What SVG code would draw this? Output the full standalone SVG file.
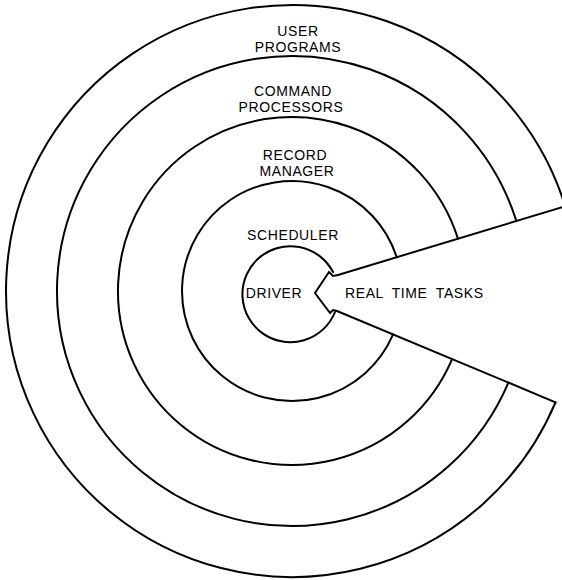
<svg xmlns="http://www.w3.org/2000/svg" width="562" height="580" viewBox="0 0 562 580">
<style>
.ln{fill:none;stroke:#000;stroke-width:2;stroke-linejoin:miter;stroke-linecap:round}
.t{font-family:"Liberation Sans","DejaVu Sans",Arial,sans-serif;font-size:14px;letter-spacing:0.6px;fill:#000;text-anchor:middle}
</style>
<rect width="562" height="580" fill="#fff"/>
<g id="user-programs">
<path class="ln" d="M565.1 206 A286 286 0 1 0 555.5 402.3"/>
<text class="t" x="298" y="36">USER</text>
<text class="t" x="298" y="52">PROGRAMS</text>
</g>
<g id="command-processors">
<path class="ln" d="M516.3 220.9 A235 235 0 1 0 508.4 382.6"/>
<text class="t" x="293" y="96">COMMAND</text>
<text class="t" x="291" y="112">PROCESSORS</text>
</g>
<g id="record-manager">
<path class="ln" d="M457.9 238.6 A174 174 0 1 0 452.1 359.1"/>
<text class="t" x="295" y="160">RECORD</text>
<text class="t" x="297" y="176">MANAGER</text>
</g>
<g id="scheduler">
<path class="ln" d="M396.7 257.2 A110 110 0 1 0 393.1 334.4"/>
<text class="t" x="293" y="240">SCHEDULER</text>
</g>
<g id="driver">
<path class="ln" d="M333 272 A48 48 0 1 0 335 312"/>
<text class="t" x="274" y="298">DRIVER</text>
</g>
<g id="connectors">
<path class="ln" d="M566 206 L338 275 L333 276 L329 272 L315 293 L330 313 L333 310 L337 311 L555.5 402.3"/>
</g>
<g id="real-time-tasks">
<text class="t" x="345" y="298" style="text-anchor:start;word-spacing:4px">REAL TIME TASKS</text>
</g>
</svg>
